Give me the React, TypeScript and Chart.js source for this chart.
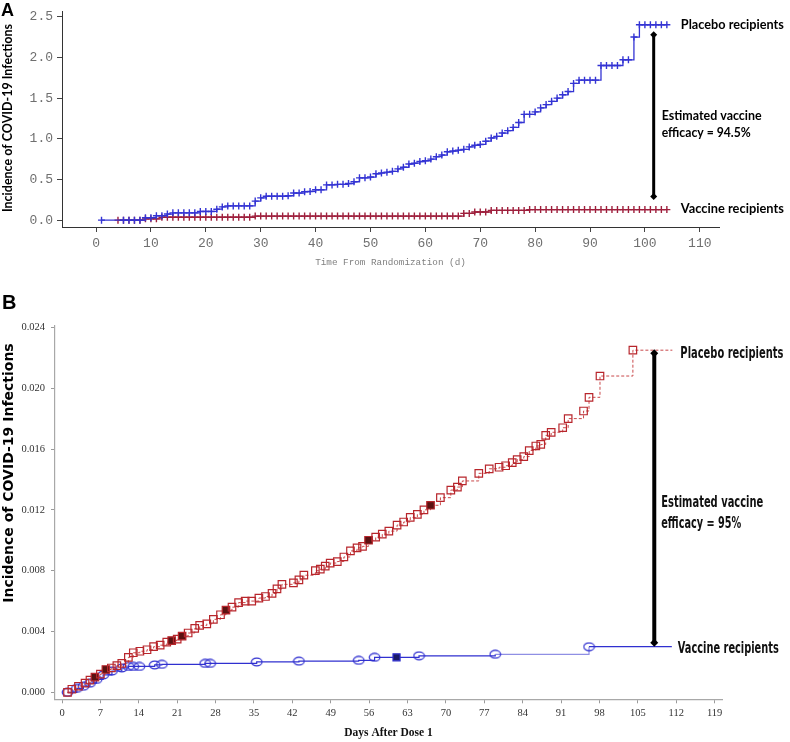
import React, { useEffect, useRef } from 'react';
import { Chart, registerables } from 'chart.js';
Chart.register(...registerables);

// ---------------- Panel A data ----------------
const xTicksA = [0, 10, 20, 30, 40, 50, 60, 70, 80, 90, 100, 110];
const yTicksA = [0, 0.5, 1.0, 1.5, 2.0, 2.5];
const placeboA_days = [1, 5, 6, 7, 8, 9, 10, 11, 12, 13, 14, 15, 16, 17, 18, 19, 20, 21, 22, 23, 24, 25, 26, 27, 28, 29, 30, 31, 32, 33, 34, 35, 36, 37, 38, 39, 40, 41, 42, 43, 44, 45, 46, 47, 48, 49, 50, 51, 52, 53, 54, 55, 56, 57, 58, 59, 60, 61, 62, 63, 64, 65, 66, 67, 68, 69, 70, 71, 72, 73, 74, 75, 76, 77, 78, 79, 80, 81, 82, 83, 84, 85, 86, 87, 88, 89, 90, 91, 92, 93, 94, 95, 96, 97, 98, 99, 100, 101, 102, 103, 104];
const placeboA_inc = [0,
  0, 0, 0, 0,
  0.03, 0.03, 0.055, 0.055, 0.075, 0.09, 0.09, 0.09, 0.09, 0.09,
  0.107, 0.107, 0.107, 0.135, 0.163, 0.175, 0.175, 0.175, 0.175, 0.175,
  0.234, 0.274, 0.294, 0.294, 0.294, 0.294, 0.3, 0.333, 0.333, 0.35,
  0.353, 0.373, 0.373, 0.433, 0.433, 0.44, 0.44, 0.45, 0.472, 0.52,
  0.52, 0.53, 0.57, 0.58, 0.59, 0.6, 0.63, 0.65, 0.69, 0.7,
  0.72, 0.73, 0.75, 0.78, 0.8, 0.84, 0.85, 0.86, 0.87, 0.9,
  0.92, 0.93, 0.97, 1.01, 1.03, 1.07, 1.1, 1.14, 1.2, 1.3,
  1.3, 1.33, 1.38, 1.42, 1.46, 1.5, 1.54, 1.58, 1.68, 1.72,
  1.72, 1.72, 1.72, 1.9, 1.9, 1.9, 1.9, 1.97, 1.97, 2.25,
  2.4, 2.4, 2.4, 2.4, 2.4, 2.4];
const vaccineA_days = [4, 5, 6, 7, 8, 9, 10, 11, 12, 13, 14, 15, 16, 17, 18, 19, 20, 21, 22, 23, 24, 25, 26, 27, 28, 29, 30, 31, 32, 33, 34, 35, 36, 37, 38, 39, 40, 41, 42, 43, 44, 45, 46, 47, 48, 49, 50, 51, 52, 53, 54, 55, 56, 57, 58, 59, 60, 61, 62, 63, 64, 65, 66, 67, 68, 69, 70, 71, 72, 73, 74, 75, 76, 77, 78, 79, 80, 81, 82, 83, 84, 85, 86, 87, 88, 89, 90, 91, 92, 93, 94, 95, 96, 97, 98, 99, 100, 101, 102, 103, 104];
const vaccineA_inc = [
  0, 0, 0, 0, 0,
  0.016, 0.016, 0.016,
  0.036, 0.036, 0.036, 0.036, 0.036, 0.036, 0.036, 0.036, 0.036, 0.036, 0.036, 0.036, 0.036, 0.036, 0.036, 0.036, 0.036,
  0.05, 0.05, 0.05, 0.05, 0.05, 0.05, 0.05, 0.05, 0.05, 0.05, 0.05, 0.05, 0.05, 0.05, 0.05, 0.05, 0.05, 0.05, 0.05,
  0.05, 0.05, 0.05, 0.05, 0.05, 0.05, 0.05, 0.05, 0.05, 0.05, 0.05, 0.05, 0.05, 0.05, 0.05, 0.05, 0.05, 0.05, 0.05,
  0.083, 0.083,
  0.1, 0.1, 0.1,
  0.12, 0.12, 0.12, 0.12, 0.12, 0.12, 0.12,
  0.13, 0.13, 0.13, 0.13, 0.13, 0.13, 0.13, 0.13, 0.13, 0.13, 0.13, 0.13, 0.13,
  0.13, 0.13, 0.13, 0.13, 0.13, 0.13, 0.13, 0.13, 0.13, 0.13, 0.13, 0.13, 0.13];
const efficacyA = 'Estimated vaccine|efficacy = 94.5%';
const arrowDayA = 101.6;

// ---------------- Panel B data ----------------
const xTicksB = [0, 7, 14, 21, 28, 35, 42, 49, 56, 63, 70, 77, 84, 91, 98, 105, 112, 119];
const yTicksB = [0, 0.004, 0.008, 0.012, 0.016, 0.020, 0.024];
const placeboB_days = [1, 1.8, 3, 4.2, 5.1, 6, 7, 8, 9, 10, 10.9, 12.1, 13, 14.2, 15.5, 16.7, 17.9, 19.1, 20, 21, 21.9, 23, 24.2, 25.1, 26.4, 27.6, 28.9, 29.9, 31, 32.2, 33.4, 34.6, 35.9, 37.1, 38.3, 39.2, 40.1, 42.2, 43.2, 44.1, 46.2, 47.1, 48, 48.9, 50.2, 51.4, 52.6, 53.8, 54.8, 55.9, 57.2, 58.4, 59.6, 61.1, 62.3, 63.5, 64.8, 66, 67.2, 69, 70.9, 72.1, 73, 76, 77.9, 79.7, 80.9, 82.1, 83, 84.2, 85.2, 86.4, 87.3, 88.2, 89.2, 91.3, 92.3, 95.1, 96.1, 98.1, 104.1, 111.3];
const placeboB_inc = [0, 0.0002, 0.0004, 0.0006, 0.0008, 0.001, 0.0012, 0.0015, 0.0016, 0.00175, 0.0019, 0.0023, 0.0026, 0.0027, 0.0028, 0.003, 0.0031, 0.0033, 0.0034, 0.0035, 0.0037, 0.0039, 0.0042, 0.0044, 0.0045, 0.0048, 0.0051, 0.0054, 0.0056, 0.0059, 0.006, 0.006, 0.0062, 0.0063, 0.0065, 0.0068, 0.0071, 0.0072, 0.0074, 0.0077, 0.008, 0.0081, 0.0083, 0.0085, 0.0086, 0.0089, 0.0093, 0.0095, 0.0096, 0.01, 0.0102, 0.0104, 0.0106, 0.011, 0.0112, 0.0115, 0.0117, 0.012, 0.0123, 0.0128, 0.0133, 0.0135, 0.0139, 0.0144, 0.0147, 0.0148, 0.0149, 0.0151, 0.0153, 0.0155, 0.0159, 0.0162, 0.0163, 0.0169, 0.0171, 0.0174, 0.018, 0.0185, 0.0194, 0.0208, 0.0225, 0.0225];
const placeboB_filled = [6, 8, 20, 21.9, 29.9, 55.9, 67.2];
const vaccineB_days = [1, 2.7, 3.9, 5.1, 6.3, 7.5, 9.1, 10.9, 12.1, 13, 14.1, 16.9, 18.2, 26.1, 27, 35.5, 43.2, 54.1, 57, 61, 65.1, 79, 96.1, 111.2];
const vaccineB_inc = [0, 0.00026, 0.0004, 0.0006, 0.00085, 0.00114, 0.0014, 0.0016, 0.0017, 0.0017, 0.0017, 0.0018, 0.00184, 0.0019, 0.0019, 0.002, 0.00205, 0.0021, 0.0023, 0.0023, 0.0024, 0.0025, 0.003, 0.003];
const vaccineB_filled = [61];
const efficacyB = 'Estimated vaccine|efficacy = 95%';
const arrowDayB = 108;

const Y_TITLE = 'Incidence of COVID-19 Infections';
const BLUE_A = '#3434d4';
const RED_A = '#9e1f3c';
const RED_B = '#b8262c';
const RED_B_LINE = '#c9484a';
const BLUE_B = '#3030d0';

const toXY = (xs: number[], ys: number[]) => xs.map((x, i) => ({ x, y: ys[i] }));

function txt(ctx: CanvasRenderingContext2D, s: string, x: number, y: number, font: string, color: string, maxW?: number, align: CanvasTextAlign = 'left') {
  ctx.save();
  ctx.font = font;
  ctx.fillStyle = color;
  ctx.textAlign = align;
  ctx.textBaseline = 'middle';
  if (maxW) ctx.fillText(s, x, y, maxW);
  else ctx.fillText(s, x, y);
  ctx.restore();
}

function vtxt(ctx: CanvasRenderingContext2D, s: string, x: number, y: number, font: string, maxW?: number) {
  ctx.save();
  ctx.translate(x, y);
  ctx.rotate(-Math.PI / 2);
  ctx.font = font;
  ctx.fillStyle = '#000';
  ctx.textAlign = 'center';
  ctx.textBaseline = 'middle';
  if (maxW) ctx.fillText(s, 0, 0, maxW);
  else ctx.fillText(s, 0, 0);
  ctx.restore();
}

function arrow(ctx: CanvasRenderingContext2D, x: number, y1: number, y2: number, w: number, head: number) {
  ctx.save();
  ctx.strokeStyle = '#000';
  ctx.fillStyle = '#000';
  ctx.lineWidth = w;
  ctx.beginPath();
  ctx.moveTo(x, y1);
  ctx.lineTo(x, y2);
  ctx.stroke();
  for (const y of [y1, y2]) {
    ctx.beginPath();
    ctx.moveTo(x, y - head);
    ctx.lineTo(x + head, y);
    ctx.lineTo(x, y + head);
    ctx.lineTo(x - head, y);
    ctx.closePath();
    ctx.fill();
  }
  ctx.restore();
}

const annotA = {
  id: 'annotA',
  afterDraw(chart: any) {
    const ctx = chart.ctx as CanvasRenderingContext2D;
    const xs = chart.scales.x, ys = chart.scales.y;
    const font = 'bold 14px "Liberation Sans Narrow", Lato, sans-serif';
    txt(ctx, 'A', 1, 11, 'bold 18px "Liberation Sans", Arial, sans-serif', '#000');
    vtxt(ctx, Y_TITLE, 8, 118, 'bold 12.5px Lato, "Open Sans", sans-serif', 190);
    const pEnd = placeboA_inc[placeboA_inc.length - 1];
    const vEnd = vaccineA_inc[vaccineA_inc.length - 1];
    const lx = xs.getPixelForValue(placeboA_days[placeboA_days.length - 1]) + 14;
    txt(ctx, 'Placebo recipients', lx, ys.getPixelForValue(pEnd), font, '#000', 103);
    txt(ctx, 'Vaccine recipients', lx, ys.getPixelForValue(vEnd) - 1, font, '#000', 103);
    const ax = xs.getPixelForValue(arrowDayA);
    const top = ys.getPixelForValue(pEnd) + 10;
    const bot = ys.getPixelForValue(vEnd) - 13;
    arrow(ctx, ax, top, bot, 3, 3.5);
    const [l1, l2] = efficacyA.split('|');
    const mid = (top + bot) / 2;
    txt(ctx, l1, ax + 8, mid, font, '#000', 100);
    txt(ctx, l2, ax + 8, mid + 16.5, font, '#000', 89);
  },
};

const annotB = {
  id: 'annotB',
  afterDraw(chart: any) {
    const ctx = chart.ctx as CanvasRenderingContext2D;
    const xs = chart.scales.x, ys = chart.scales.y;
    const font = 'bold 15px "Liberation Sans Narrow", "DejaVu Sans Condensed", sans-serif';
    txt(ctx, 'B', 2, 28, 'bold 20px "Liberation Sans", Arial, sans-serif', '#000');
    vtxt(ctx, Y_TITLE, 9, 198, 'bold 14px "DejaVu Sans", sans-serif', 290);
    const pEnd = placeboB_inc[placeboB_inc.length - 1];
    const vEnd = vaccineB_inc[vaccineB_inc.length - 1];
    const px = xs.getPixelForValue(placeboB_days[placeboB_days.length - 1]) + 8;
    const vx = xs.getPixelForValue(vaccineB_days[vaccineB_days.length - 1]) + 6;
    txt(ctx, 'Placebo recipients', px, ys.getPixelForValue(pEnd) + 4, font, '#111', 103);
    txt(ctx, 'Vaccine recipients', vx, ys.getPixelForValue(vEnd) + 2, font, '#111', 101);
    const ax = xs.getPixelForValue(arrowDayB);
    const top = ys.getPixelForValue(pEnd) + 3;
    const bot = ys.getPixelForValue(vEnd) - 4;
    arrow(ctx, ax, top, bot, 4, 4);
    const [l1, l2] = efficacyB.split('|');
    const mid = (top + bot) / 2;
    txt(ctx, l1, ax + 7, mid + 5, font, '#111', 102);
    txt(ctx, l2, ax + 7, mid + 26, font, '#111', 80);
  },
};

function fixedTicks(list: number[]) {
  return (axis: any) => {
    axis.ticks = list.map((v) => ({ value: v }));
  };
}

export default function App() {
  const refA = useRef<HTMLCanvasElement>(null);
  const refB = useRef<HTMLCanvasElement>(null);

  useEffect(() => {
    // ellipse marker for vaccine (panel B)
    const ell = document.createElement('canvas');
    ell.width = 13;
    ell.height = 10;
    const ec = ell.getContext('2d')!;
    ec.strokeStyle = BLUE_B;
    ec.lineWidth = 1.2;
    ec.beginPath();
    ec.ellipse(6.5, 5, 5.3, 3.8, 0, 0, Math.PI * 2);
    ec.stroke();

    const monoTick = { family: '"Liberation Mono", "Courier New", monospace', size: 13 };
    const chartA = new Chart(refA.current!, {
      type: 'line',
      data: {
        datasets: [
          {
            label: 'Placebo recipients',
            data: toXY(placeboA_days, placeboA_inc),
            stepped: true,
            borderColor: BLUE_A,
            borderWidth: 1.3,
            pointStyle: 'cross',
            pointRadius: 3.5,
            pointBorderColor: BLUE_A,
            pointBorderWidth: 1.4,
            fill: false,
          },
          {
            label: 'Vaccine recipients',
            data: toXY(vaccineA_days, vaccineA_inc),
            stepped: true,
            borderColor: RED_A,
            borderWidth: 1.3,
            pointStyle: 'cross',
            pointRadius: 3.5,
            pointBorderColor: RED_A,
            pointBorderWidth: 1.4,
            fill: false,
          },
        ],
      } as any,
      options: {
        animation: false,
        responsive: false,
        devicePixelRatio: 1,
        layout: { padding: { top: 7, right: 71, left: 0, bottom: 0 } },
        plugins: { legend: { display: false }, tooltip: { enabled: false } },
        scales: {
          x: {
            type: 'linear',
            min: -6.2,
            max: 113.5,
            afterBuildTicks: fixedTicks(xTicksA),
            afterFit: (s: any) => { s.height = 48; },
            ticks: { font: monoTick, color: '#6f6f6f', padding: 4, autoSkip: false, maxRotation: 0 },
            grid: { display: true, drawOnChartArea: false, drawTicks: true, tickLength: 5, color: '#444' },
            border: { display: true, color: '#333', width: 1 },
            title: {
              display: true,
              text: 'Time From Randomization (d)',
              font: { family: '"Liberation Mono", "Courier New", monospace', size: 9.3 },
              color: '#808080',
              padding: { top: 0, bottom: 7 },
            },
          },
          y: {
            type: 'linear',
            min: -0.084,
            max: 2.56,
            afterBuildTicks: fixedTicks(yTicksA),
            afterFit: (s: any) => { s.width = 62; },
            ticks: { font: monoTick, color: '#6f6f6f', padding: 4, callback: (v: any) => Number(v).toFixed(1) },
            grid: { display: true, drawOnChartArea: false, drawTicks: true, tickLength: 5, color: '#444' },
            border: { display: true, color: '#333', width: 1 },
          },
        },
      } as any,
      plugins: [annotA],
    });

    const serifTick = { family: '"Liberation Serif", "Times New Roman", serif', size: 10.5 };
    const lastP = placeboB_days.length - 1;
    const lastV = vaccineB_days.length - 1;
    const chartB = new Chart(refB.current!, {
      type: 'line',
      data: {
        datasets: [
          {
            label: 'Placebo recipients',
            data: toXY(placeboB_days, placeboB_inc),
            stepped: true,
            borderColor: RED_B_LINE,
            borderWidth: 1,
            borderDash: [3, 2],
            pointStyle: 'rect',
            pointRadius: (c: any) => (c.dataIndex === lastP ? 0 : 5.3),
            pointBorderColor: RED_B,
            pointBorderWidth: 1.2,
            pointBackgroundColor: (c: any) =>
              placeboB_filled.includes(placeboB_days[c.dataIndex]) ? '#5a1212' : 'rgba(0,0,0,0)',
            fill: false,
          },
          {
            label: 'Vaccine recipients',
            data: toXY(vaccineB_days, vaccineB_inc),
            stepped: true,
            borderColor: BLUE_B,
            borderWidth: 1.2,
            segment: {
              borderColor: (c: any) => (c.p0.parsed.x >= 79 && c.p0.parsed.x < 96 ? '#8f8fe4' : BLUE_B),
            },
            pointStyle: (c: any) =>
              vaccineB_filled.includes(vaccineB_days[c.dataIndex]) ? 'rect' : ell,
            pointRadius: (c: any) => (c.dataIndex === lastV ? 0 : 5),
            pointBorderColor: BLUE_B,
            pointBorderWidth: 1.2,
            pointBackgroundColor: '#1a1a66',
            fill: false,
          },
        ],
      } as any,
      options: {
        animation: false,
        responsive: false,
        devicePixelRatio: 1,
        layout: { padding: { top: 51, right: 68, left: 0, bottom: 0 } },
        plugins: { legend: { display: false }, tooltip: { enabled: false } },
        scales: {
          x: {
            type: 'linear',
            min: -1.28,
            max: 120.35,
            afterBuildTicks: fixedTicks(xTicksB),
            afterFit: (s: any) => { s.height = 42.7; },
            ticks: { font: serifTick, color: '#333', padding: 4, autoSkip: false, maxRotation: 0 },
            grid: { display: true, drawOnChartArea: false, drawTicks: true, tickLength: 4, color: '#9a9a9a' },
            border: { display: true, color: '#a8a8a8', width: 1.2 },
            title: {
              display: true,
              text: 'Days After Dose 1',
              font: { family: '"Liberation Serif", "Times New Roman", serif', size: 11.5, weight: 'bold' },
              color: '#111',
              padding: { top: 0, bottom: 2 },
            },
          },
          y: {
            type: 'linear',
            min: -0.00046,
            max: 0.02409,
            afterBuildTicks: fixedTicks(yTicksB),
            afterFit: (s: any) => { s.width = 55; },
            ticks: { font: serifTick, color: '#333', padding: 6, callback: (v: any) => Number(v).toFixed(3) },
            grid: { display: true, drawOnChartArea: false, drawTicks: true, tickLength: 4, color: '#9a9a9a' },
            border: { display: true, color: '#a8a8a8', width: 1.2 },
          },
        },
      } as any,
      plugins: [annotB],
    });

    return () => {
      chartA.destroy();
      chartB.destroy();
    };
  }, []);

  return (
    <div style={{ position: 'absolute', left: 0, top: 0, width: 790, height: 742, background: '#fff' }}>
      <canvas ref={refA} width={790} height={275} style={{ position: 'absolute', left: 0, top: 0 }} />
      <canvas ref={refB} width={790} height={467} style={{ position: 'absolute', left: 0, top: 275 }} />
    </div>
  );
}
